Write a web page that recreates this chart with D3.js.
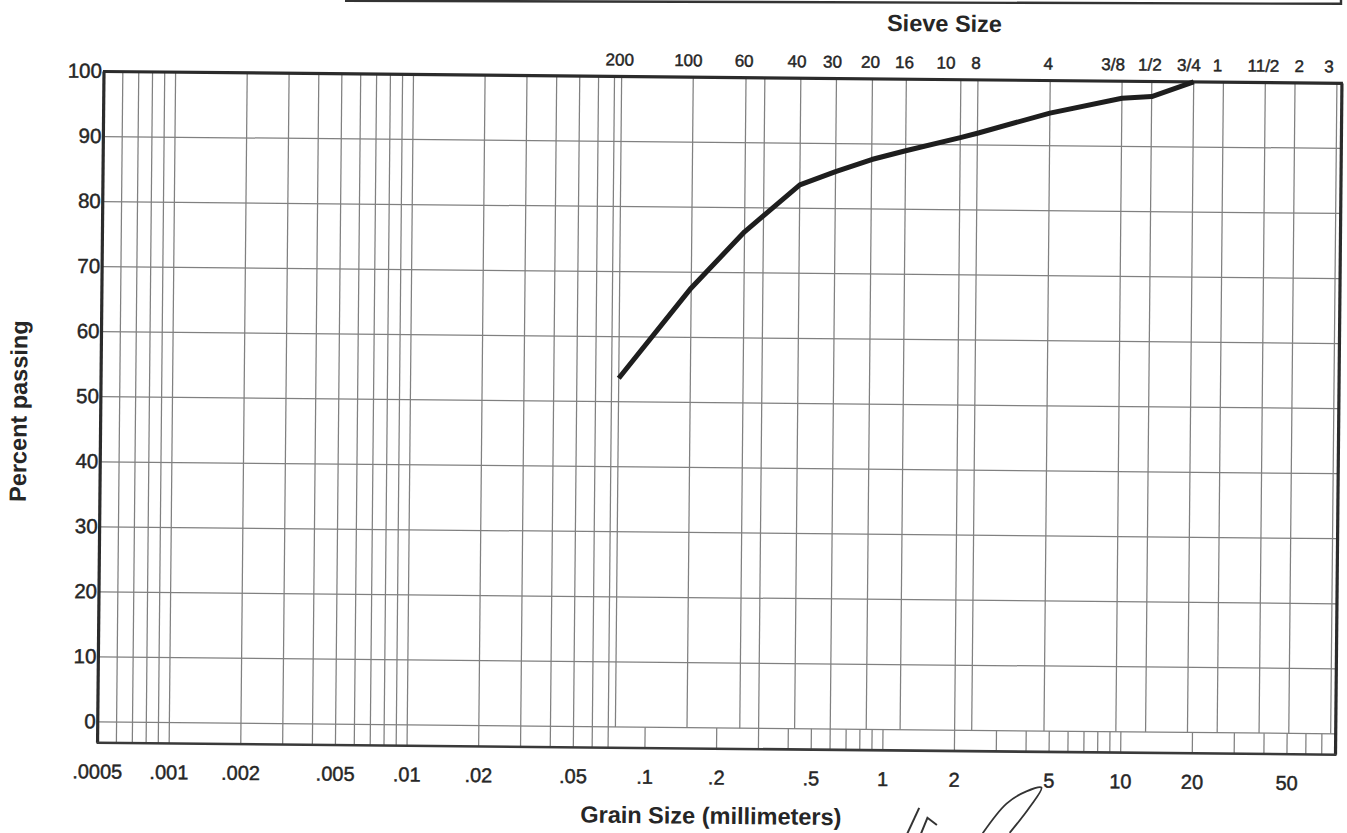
<!DOCTYPE html>
<html>
<head>
<meta charset="utf-8">
<script src="https://cdn.jsdelivr.net/npm/d3@7/dist/d3.min.js"></script>
<style>
  html, body { margin: 0; padding: 0; background: #ffffff; }
  svg { display: block; }
  text { font-family: "Liberation Sans", Arial, Helvetica, sans-serif; fill: #262626; }
  .lbl { stroke: #262626; stroke-width: 0.45px; }
</style>
</head>
<body>
<svg id="chart" width="1347" height="833"></svg>
<script>
// ---------------- data ----------------
// Percent-passing axis
const percentTicks = [0, 10, 20, 30, 40, 50, 60, 70, 80, 90, 100];

// Sieve numbers (top axis) and their openings in mm
const sieveNames = ["200", "100", "60", "40", "30", "20", "16", "10", "8", "4", "3/8", "1/2", "3/4", "1", "11/2", "2", "3"];
const sieveMm    = [0.075, 0.15, 0.25, 0.425, 0.6, 0.85, 1.18, 2.0, 2.36, 4.75, 9.525, 12.7, 19.05, 25.4, 38.1, 50.8, 76.2];
const unlabeledSieveMm = [0.3];   // No. 50 sieve line, no label

// Grain size labels (bottom axis), mm
const grainLabels = [".0005", ".001", ".002", ".005", ".01", ".02", ".05", ".1", ".2", ".5", "1", "2", "5", "10", "20", "50"];
const grainMm     = [0.0005, 0.001, 0.002, 0.005, 0.01, 0.02, 0.05, 0.1, 0.2, 0.5, 1, 2, 5, 10, 20, 50];

// Fine-fraction grid lines (full height), mm
const fineGridMm = [0.0006, 0.0007, 0.0008, 0.0009, 0.001,
                    0.002, 0.003, 0.004, 0.005, 0.006, 0.007, 0.008, 0.009, 0.01,
                    0.02, 0.03, 0.04, 0.05, 0.06, 0.07];

// Short ticks in the strip below 0 %, mm
const stripTickMm = [0.1, 0.2, 0.3, 0.4, 0.5, 0.6, 0.7, 0.8, 0.9,
                     1, 2, 3, 4, 5, 6, 7, 8, 9,
                     10, 20, 30, 40, 50, 60, 70];

// Gradation curve (grain size mm, percent passing)
const passMm  = [0.075, 0.15, 0.25, 0.425, 0.6, 0.85, 1.18, 2.0, 2.36, 4.75, 9.525, 12.7, 19.05];
const passPct = [53.6, 67.6, 76.3, 83.6, 85.7, 87.6, 89.0, 91.1, 91.8, 95.0, 97.4, 97.7, 100];

// Hand-written pen marks below the axis (in chart units: mm, percent)
const penLoopMm  = [2.65, 3.33, 4.03, 4.66, 4.17, 3.44];
const penLoopPct = [-15.8, -11.2, -9.3, -8.7, -11.7, -15.7];
const penMarkAMm  = [1.24, 1.43];
const penMarkAPct = [-17.0, -12.0];
const penMarkBMm  = [1.46, 1.55, 1.70];
const penMarkBPct = [-15.9, -13.5, -14.6];

// ---------------- layout ----------------
(function () {
const svg = d3.select("#chart");
const pL = 104, pR = 1342, pT = 71.5, zeroY = 722;
const x = d3.scaleLog().domain([0.0005, 80]).range([pL, pR]);
const y = d3.scaleLinear().domain([0, 100]).range([zeroY, pT]);
const pB = y(-3.2);

// scanned page is slightly skewed
const g = svg.append("g").attr("transform", `rotate(0.55, ${pL}, ${pT})`);

const gridColor = "#808080";
const gridW = 1.25;

// horizontal grid lines
g.append("g").selectAll("line").data(percentTicks.filter(v => v < 100)).join("line")
  .attr("x1", pL).attr("x2", pR)
  .attr("y1", d => y(d)).attr("y2", d => y(d))
  .attr("stroke", gridColor).attr("stroke-width", gridW);

// fine-fraction vertical lines, full height
g.append("g").selectAll("line").data(fineGridMm).join("line")
  .attr("x1", d => x(d)).attr("x2", d => x(d))
  .attr("y1", pT).attr("y2", pB)
  .attr("stroke", gridColor).attr("stroke-width", gridW);

// sieve lines, from 100 % down to 0 %
g.append("g").selectAll("line").data(sieveMm.concat(unlabeledSieveMm)).join("line")
  .attr("x1", d => x(d)).attr("x2", d => x(d))
  .attr("y1", pT).attr("y2", y(0))
  .attr("stroke", gridColor).attr("stroke-width", gridW);

// short mm ticks below 0 %
g.append("g").selectAll("line").data(stripTickMm).join("line")
  .attr("x1", d => x(d)).attr("x2", d => x(d))
  .attr("y1", y(0)).attr("y2", pB)
  .attr("stroke", gridColor).attr("stroke-width", gridW);

// frame
const frameColor = "#2b2b2b";
g.append("line").attr("x1", pL - 1).attr("x2", pR + 1).attr("y1", pT).attr("y2", pT)
  .attr("stroke", frameColor).attr("stroke-width", 3.2);
g.append("line").attr("x1", pL).attr("x2", pL).attr("y1", pT).attr("y2", pB)
  .attr("stroke", frameColor).attr("stroke-width", 3.2);
g.append("line").attr("x1", pR).attr("x2", pR).attr("y1", pT).attr("y2", pB)
  .attr("stroke", frameColor).attr("stroke-width", 3.2);
g.append("line").attr("x1", pL - 1).attr("x2", pR + 1).attr("y1", pB).attr("y2", pB)
  .attr("stroke", "#3a3a3a").attr("stroke-width", 2.6);

// gradation curve
const curve = passMm.map((d, i) => [d, passPct[i]]);
g.append("path")
  .attr("d", d3.line().x(d => x(d[0])).y(d => y(d[1]))(curve))
  .attr("fill", "none").attr("stroke", "#1e1e1e").attr("stroke-width", 5)
  .attr("stroke-linejoin", "round");

// y tick labels
g.append("g").selectAll("text").data(percentTicks).join("text")
  .attr("class", "lbl")
  .attr("x", pL - 2).attr("y", d => y(d) + 6.5)
  .attr("text-anchor", "end").attr("font-size", 20.5)
  .text(d => d);

// top sieve labels
const sieveNudge = { "10": -15, "3/8": -9, "3": -8, "100": -5, "40": -4, "30": -4, "1": -6, "3/4": -5, "2": 4 };
g.append("g").selectAll("text").data(sieveNames).join("text")
  .attr("class", "lbl")
  .attr("x", (d, i) => x(sieveMm[i]) + (sieveNudge[d] || -2))
  .attr("y", 60.5)
  .attr("text-anchor", "middle").attr("font-size", 17)
  .text(d => d);

// bottom grain size labels
g.append("g").selectAll("text").data(grainLabels).join("text")
  .attr("class", "lbl")
  .attr("x", (d, i) => x(grainMm[i]))
  .attr("y", 778.5)
  .attr("text-anchor", "middle").attr("font-size", 20)
  .text(d => d);

// axis titles
g.append("text").attr("x", 944).attr("y", 23.5)
  .attr("text-anchor", "middle").attr("font-size", 23.5).attr("font-weight", "bold")
  .text("Sieve Size");
g.append("text").attr("x", 718).attr("y", 818)
  .attr("text-anchor", "middle").attr("font-size", 23.5).attr("font-weight", "bold")
  .text("Grain Size (millimeters)");
g.append("text").attr("transform", "translate(30,412) rotate(-90)")
  .attr("text-anchor", "middle").attr("font-size", 23.5).attr("font-weight", "bold")
  .text("Percent passing");

// pen marks
g.append("path")
  .attr("d", d3.line().curve(d3.curveCatmullRom).x(d => x(d[0])).y(d => y(d[1]))(penLoopMm.map((d, i) => [d, penLoopPct[i]])))
  .attr("fill", "none").attr("stroke", "#333").attr("stroke-width", 1.8);
g.append("path")
  .attr("d", d3.line().x(d => x(d[0])).y(d => y(d[1]))(penMarkAMm.map((d, i) => [d, penMarkAPct[i]])))
  .attr("fill", "none").attr("stroke", "#333").attr("stroke-width", 2);
g.append("path")
  .attr("d", d3.line().x(d => x(d[0])).y(d => y(d[1]))(penMarkBMm.map((d, i) => [d, penMarkBPct[i]])))
  .attr("fill", "none").attr("stroke", "#333").attr("stroke-width", 2);

// edge of the box above (cut off by the scan)
svg.append("path")
  .attr("d", d3.line()([[345, 0.8], [1341, 3.8], [1341, 0]]))
  .attr("fill", "none").attr("stroke", "#333").attr("stroke-width", 2.4);
})();
</script>
</body>
</html>
